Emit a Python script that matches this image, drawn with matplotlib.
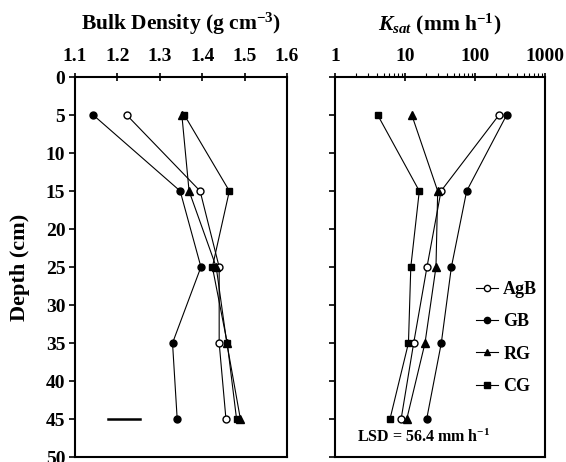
import matplotlib.pyplot as plt
from matplotlib.ticker import LogLocator, NullFormatter, FixedLocator

plt.rcParams['font.family'] = ['Liberation Serif', 'DejaVu Serif']
plt.rcParams['font.weight'] = 'bold'
plt.rcParams['mathtext.fontset'] = 'custom'
plt.rcParams['mathtext.rm'] = 'Liberation Serif:bold'
plt.rcParams['mathtext.it'] = 'Liberation Serif:italic:bold'
plt.rcParams['mathtext.bf'] = 'Liberation Serif:bold'

depth = [5, 15, 25, 35, 45]
series = ["AgB", "GB", "RG", "CG"]

# bulk density (g cm-3)
bd_agb = [1.222, 1.395, 1.44, 1.44, 1.456]
bd_gb = [1.143, 1.348, 1.397, 1.33, 1.341]
bd_rg = [1.352, 1.369, 1.433, 1.458, 1.49]
bd_cg = [1.358, 1.464, 1.424, 1.459, 1.481]
bd_lsd = [1.178, 1.253]

# Ksat (mm h-1)
k_agb = [220, 32.7, 20.6, 13.3, 8.8]
k_gb = [283, 76, 46, 33, 20.4]
k_rg = [12.5, 29.3, 27.7, 19.3, 10.6]
k_cg = [4.07, 16, 12.1, 11.2, 6.1]

styles = {
    "AgB": dict(marker='o', mfc='white', mec='black', ms=5),
    "GB": dict(marker='o', mfc='black', mec='black', ms=5),
    "RG": dict(marker='^', mfc='black', mec='black', ms=5.5),
    "CG": dict(marker='s', mfc='black', mec='black', ms=5),
}

fig = plt.figure(figsize=(5.66, 4.62), dpi=100)
ax1 = fig.add_axes([0.1325, 0.0108, 0.3746, 0.8225])
ax2 = fig.add_axes([0.5919, 0.0108, 0.371, 0.8225])

for name, vals in zip(series, [bd_agb, bd_gb, bd_rg, bd_cg]):
    ax1.plot(vals, depth, color='black', lw=0.8, **styles[name])
ax1.plot(bd_lsd, [45, 45], color='black', lw=1.8)

for name, vals in zip(series, [k_agb, k_gb, k_rg, k_cg]):
    ax2.plot(vals, depth, color='black', lw=0.8, label=name, **styles[name])

for ax in (ax1, ax2):
    ax.set_ylim(50, 0)
    ax.yaxis.set_major_locator(FixedLocator(range(0, 51, 5)))
    ax.xaxis.tick_top()
    ax.xaxis.set_label_position('top')
    for s in ax.spines.values():
        s.set_linewidth(1.5)
    ax.tick_params(axis='y', direction='out', length=4, width=1.2, labelsize=14, pad=3)
    ax.tick_params(axis='x', which='major', direction='inout', length=6, width=1.2,
                   labelsize=14, pad=6)

ax1.set_xlim(1.1, 1.6)
ax1.set_xticks([1.1, 1.2, 1.3, 1.4, 1.5, 1.6])
ax1.set_xticklabels(['1.1', '1.2', '1.3', '1.4', '1.5', '1.6'])
ax1.set_ylabel('Depth (cm)', fontsize=16, fontweight='bold', labelpad=11)
ax1.set_title('Bulk Density (g cm$^{\\mathregular{-3}}$)', fontsize=15.5, fontweight='bold', pad=34)

ax2.set_xscale('log')
ax2.set_xlim(1, 1000)
ax2.set_xticks([1, 10, 100, 1000])
ax2.set_xticklabels(['1', '10', '100', '1000'])
ax2.xaxis.set_minor_locator(LogLocator(base=10, subs=range(2, 10)))
ax2.xaxis.set_minor_formatter(NullFormatter())
ax2.tick_params(axis='x', which='minor', direction='out', length=3, width=0.8)
ax2.tick_params(axis='y', labelleft=False)
ax2.set_title('$K_{sat}$ (mm h$^{\\mathregular{-1}}$)', fontsize=15.5, fontweight='bold', pad=34)

ax2.legend(loc='lower right', bbox_to_anchor=(1.04, 0.12), frameon=False, fontsize=13,
           handlelength=1.2, handletextpad=0.3, labelspacing=0.85, markerscale=0.9)
ax2.text(0.42, 0.053, 'LSD = 56.4 mm h$^{\\mathregular{-1}}$', transform=ax2.transAxes,
         ha='center', va='center', fontsize=11.5, fontweight='bold')

plt.savefig('out.png', dpi=100)
